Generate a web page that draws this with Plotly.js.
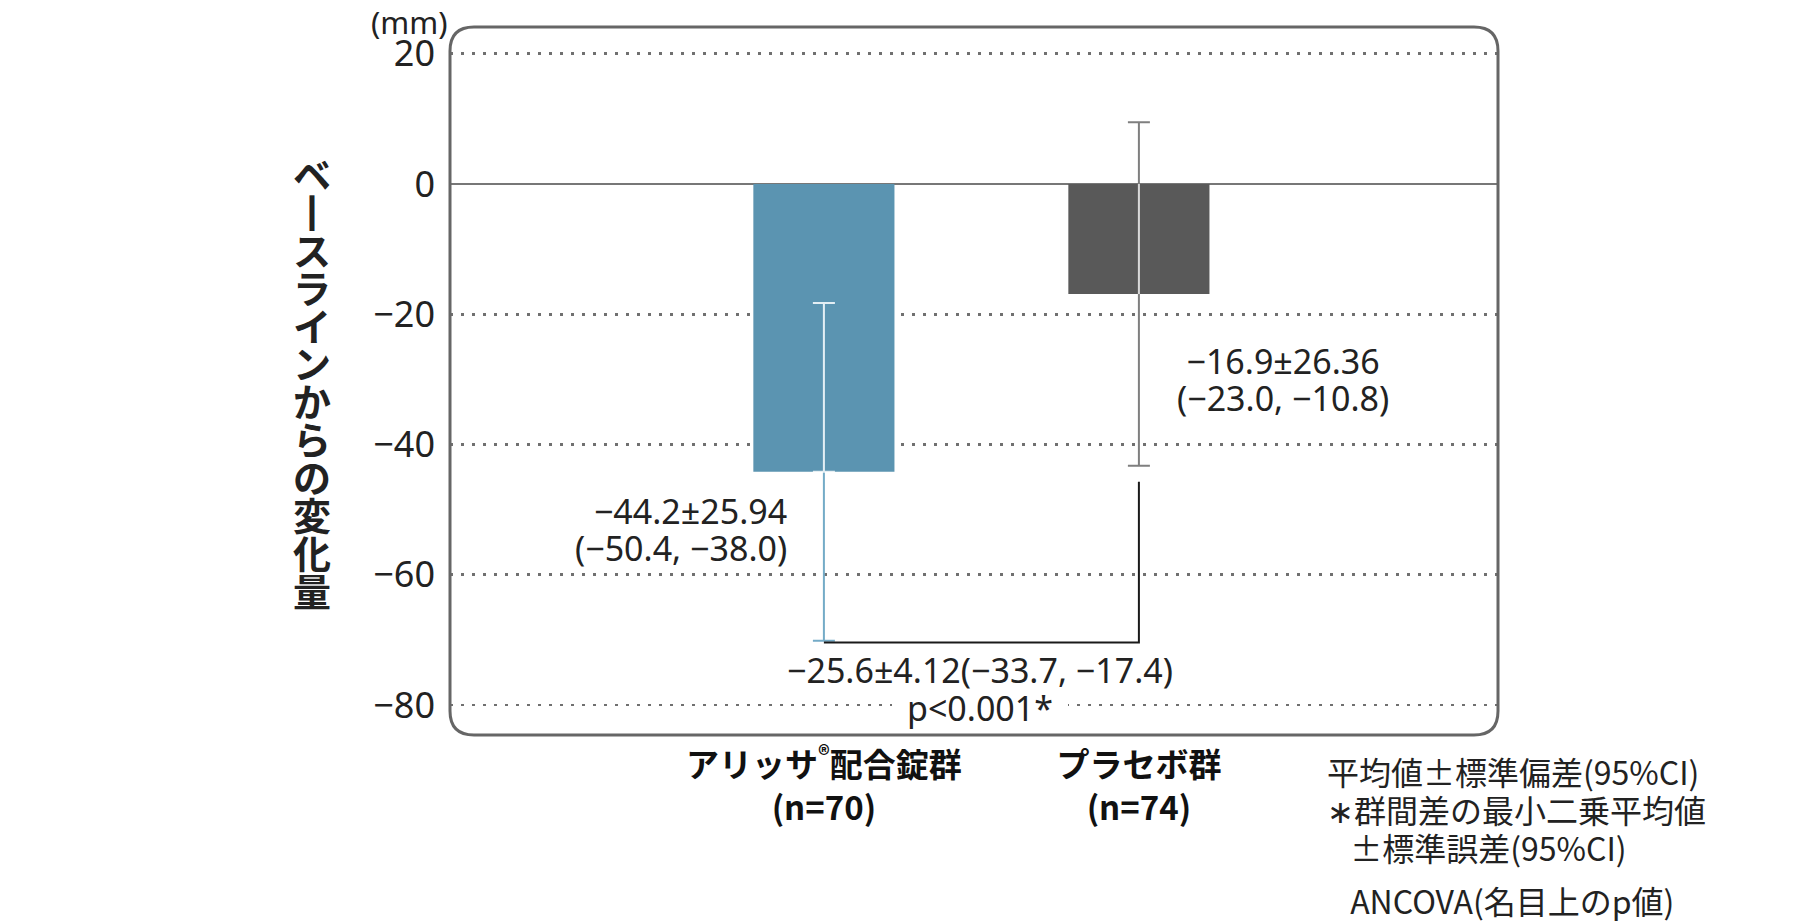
<!DOCTYPE html>
<html><head><meta charset="utf-8">
<script src="https://cdn.plot.ly/plotly-3.0.1.min.js"></script>
<style>html,body{margin:0;padding:0;background:#fff}#chart{width:1800px;height:924px}</style>
</head><body><div id="chart"></div>
<script>
// ---- data ----
const groups = ["アリッサ®配合錠群", "プラセボ群"];
const groupLabels = ["アリッサ<sup>®</sup>配合錠群", "プラセボ群"];
const nCounts = [70, 74];
const means = [-44.2, -16.9];
const sds = [25.94, 26.36];
const ciLow = [-50.4, -23.0];
const ciHigh = [-38.0, -10.8];
const diffStats = [-25.6, 4.12, -33.7, -17.4]; // LS mean, SE, CI low, CI high
const pLabel = "p<0.001*";
const bracketX = [groups[0], groups[1], groups[1]];
const bracketY = [-70.4, -70.4, -45.7];
const yTicks = [20, 0, -20, -40, -60, -80];
const yTitleText = "ベースラインからの変化量";
const yUnit = "(mm)";
const noteLines = ["平均値±標準偏差(95%CI)", "∗群間差の最小二乗平均値", "\u2002\u00a0±標準誤差(95%CI)"];
const noteLast = "\u2002\u00a0ANCOVA(名目上のp値)";

// ---- styles ----
const BAR_COLORS = ["#5b94b1", "#595959"];
const ERR_COLORS = ["#74abc7", "#7f7f7f"];
const INNER_COLORS = ["rgba(255,255,255,0.8)", "rgba(255,255,255,0.7)"];
const JP = "Noto Sans CJK JP";
const LAT = "Noto Sans";
const TXT = "#222";

// ---- geometry (layout) ----
const W = 1800, H = 924;
const L = 450, R = 302, T = 27, B = 189;
const PW = W - L - R, PH = H - T - B;
const px = x => (x - L) / PW;
const py = y => (T + PH - y) / PH;
const span = (s, size) => `<span style="font-size:${size}px">${s}</span>`;

const fmt = (v, d) => (v < 0 ? "\u2212" : "") + Math.abs(v).toFixed(d);

const traces = [];
traces.push({
  type: "bar", x: groups, y: means, width: 0.448,
  marker: {color: BAR_COLORS, line: {width: 0}}, hoverinfo: "skip"
});
groups.forEach((g, i) => {
  traces.push({
    type: "scatter", mode: "markers", x: [g], y: [means[i]],
    marker: {size: 1, color: "rgba(0,0,0,0)"}, hoverinfo: "skip",
    error_y: {type: "data", symmetric: true, array: [sds[i]], color: ERR_COLORS[i], thickness: 2, width: 11}
  });
  const plus = Math.min(sds[i], -means[i]);
  traces.push({
    type: "scatter", mode: "markers", x: [g], y: [means[i]],
    marker: {size: 1, color: "rgba(0,0,0,0)"}, hoverinfo: "skip",
    error_y: {type: "data", symmetric: false, array: [plus], arrayminus: [0], color: INNER_COLORS[i], thickness: 2,
              width: (means[i] + sds[i] < 0) ? 11 : 0}
  });
});
traces.push({
  type: "scatter", mode: "lines", x: bracketX, y: bracketY,
  line: {color: "#1a1a1a", width: 2}, hoverinfo: "skip"
});

const ann = [];
// stats labels (two lines each)
const statPos = [{x: 789, anchor: "right", y: 529.5}, {x: 1283, anchor: "center", y: 379.5}];
groups.forEach((g, i) => {
  const p = statPos[i];
  const l1 = fmt(means[i], 1) + "±" + sds[i].toFixed(2);
  const l2 = "(" + fmt(ciLow[i], 1) + ", " + fmt(ciHigh[i], 1) + ")";
  ann.push({xref: "paper", yref: "paper", x: px(p.x), y: py(p.y), xanchor: p.anchor, yanchor: "middle",
    align: p.anchor, showarrow: false,
    text: span(l1, 34) + "<br>" + span(l2, 34), font: {family: LAT, size: 28.5, color: TXT}});
});
// between-group difference + p value
const diffLine = fmt(diffStats[0], 1) + "±" + diffStats[1].toFixed(2) + "(" + fmt(diffStats[2], 1) + ", " + fmt(diffStats[3], 1) + ")";
ann.push({xref: "paper", yref: "paper", x: px(980), y: py(689), xanchor: "center", yanchor: "middle", align: "center",
  showarrow: false, text: span(diffLine, 34) + "<br>" + span(pLabel, 34), font: {family: LAT, size: 29.2, color: TXT}});
// y title (vertical writing)
const vchars = [...yTitleText].map(ch => ch === "ー" ? "丨" : ch);
ann.push({xref: "paper", yref: "paper", x: px(312), y: py(380.5), xanchor: "center", yanchor: "middle", align: "center",
  showarrow: false, text: vchars.map(ch => "<b>" + span(ch, 38) + "</b>").join("<br>"),
  font: {family: JP, size: 29.15, color: TXT}});
// unit
ann.push({xref: "paper", yref: "paper", x: px(409), y: py(22), xanchor: "center", yanchor: "middle", showarrow: false,
  text: yUnit, font: {family: LAT, size: 31, color: TXT}});
// notes
ann.push({xref: "paper", yref: "paper", x: px(1325), y: py(808.7), xanchor: "left", yanchor: "middle", align: "left",
  showarrow: false, text: noteLines.map(t => span(t, 32)).join("<br>"), font: {family: JP, size: 29.3, color: TXT}});
ann.push({xref: "paper", yref: "paper", x: px(1325), y: py(900), xanchor: "left", yanchor: "middle", align: "left",
  showarrow: false, text: noteLast, font: {family: JP, size: 32, color: TXT}});

// rounded frame
const rad = 24, rx = rad / PW, ry = rad / PH;
const framePath = `M ${rx},0 L ${1 - rx},0 Q 1,0 1,${ry} L 1,${1 - ry} Q 1,1 ${1 - rx},1 L ${rx},1 Q 0,1 0,${1 - ry} L 0,${ry} Q 0,0 ${rx},0 Z`;

const layout = {
  width: W, height: H,
  margin: {l: L, r: R, t: T, b: B, pad: 0},
  paper_bgcolor: "#ffffff", plot_bgcolor: "#ffffff",
  showlegend: false,
  xaxis: {
    type: "category", range: [-1.187, 2.140], showgrid: false, zeroline: false, showline: false,
    ticks: "", tickvals: groups,
    ticktext: groupLabels.map((g, i) => "<b>" + g + "<br>(n=" + nCounts[i] + ")</b>"),
    tickfont: {family: JP, size: 33, color: "#111"}, ticklabelstandoff: 8, fixedrange: true
  },
  yaxis: {
    range: [-84.6, 24.1], tickvals: yTicks, showline: false, ticks: "",
    showgrid: true, gridcolor: "#707070", gridwidth: 2.8, griddash: "2.8px,8.2px",
    zeroline: true, zerolinecolor: "#777777", zerolinewidth: 2,
    tickfont: {family: LAT, size: 36, color: TXT}, ticklabelstandoff: 14, fixedrange: true
  },
  shapes: [
    // white gap behind the p-value text on the -80 gridline
    {type: "rect", xref: "paper", yref: "paper", x0: px(892), x1: px(1068), y0: py(713), y1: py(698),
     fillcolor: "#ffffff", line: {width: 0}, layer: "above"},
    {type: "path", xref: "paper", yref: "paper", path: framePath, line: {color: "#666666", width: 3}, layer: "above"}
  ],
  annotations: ann
};

Plotly.newPlot("chart", traces, layout, {displayModeBar: false, staticPlot: true});
</script></body></html>
